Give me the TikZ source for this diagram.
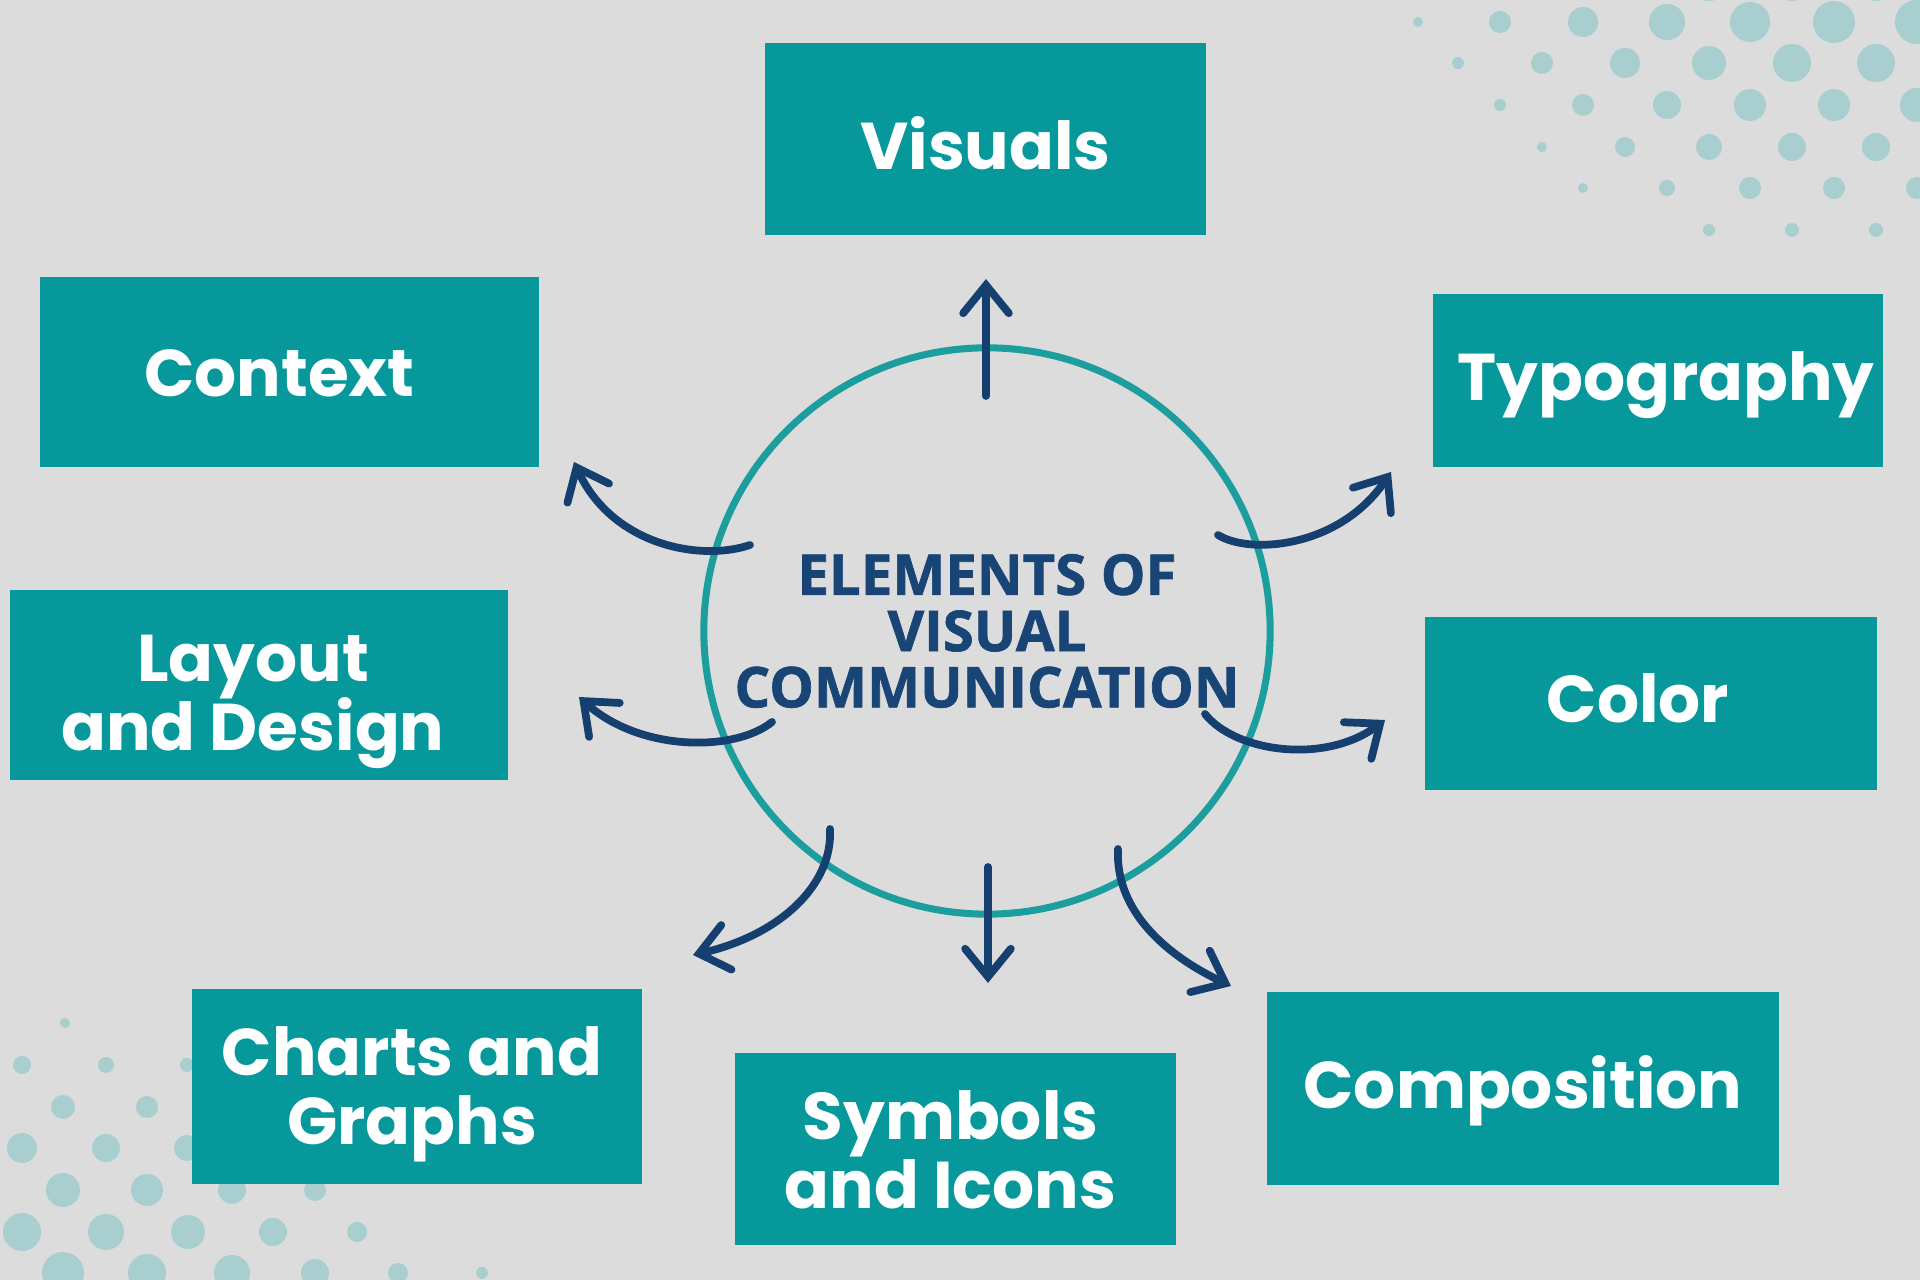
\documentclass[tikz,border=0pt]{standalone}
\usepackage{fontspec}
\usetikzlibrary{arrows.meta}
\newfontfamily\boxfont{Poppins}
\newfontfamily\hubfont{Open Sans}[BoldFeatures={FakeBold=1.2}]
\definecolor{bgc}{RGB}{220,220,220}
\definecolor{boxteal}{RGB}{7,152,155}
\definecolor{ringteal}{RGB}{28,158,158}
\definecolor{navy}{RGB}{24,69,118}
\definecolor{arrnavy}{RGB}{20,63,111}
\definecolor{dotc}{RGB}{168,206,208}
\newcommand{\tightlines}{\lineskiplimit=-50pt\relax}
\tikzset{
  tealbox/.style={rectangle, fill=boxteal, inner sep=0pt},
  boxtext/.style={text=white, inner sep=0pt, align=center,
    font=\boxfont\bfseries\fontsize{18.8pt}{19.5pt}\selectfont\tightlines},
  hubring/.style={circle, draw=ringteal, line width=2pt, inner sep=0pt, align=center,
    text=navy, font=\hubfont\bfseries\fontsize{16pt}{16pt}\selectfont\tightlines},
  arr/.style={draw=arrnavy, line width=2.2pt, line cap=round,
    -{Straight Barb[length=8pt,width=13pt,line cap=round]}},
  dotfill/.style={fill=dotc}
}
\begin{document}
\begin{tikzpicture}[x=0.01cm,y=-0.01cm]
\fill[bgc] (0,0) rectangle (1920,1280);
\useasboundingbox (0,0) rectangle (1920,1280);
% decorative dots, top right
\foreach \x/\y/\r in {1709/-20/21,1792/-20/21,1876/-20/21,
  1418/22/5,1500/22/11,1583/22/15,1667/22/18,1750/22/20,1834/22/21,1917/22/22,
  1458/63/6,1542/63/11,1625/63/15,1709/63/17,1792/63/19,1876/63/19,
  1500/105/6,1583/105/11,1667/105/14,1750/105/16,1834/105/16,1917/105/17,
  1542/147/5,1625/147/10,1709/147/13,1792/147/14,1876/147/14,
  1583/188/5,1667/188/8,1750/188/11,1834/188/11,1917/188/11,
  1709/230/6,1792/230/7,1876/230/7}
  \fill[dotfill] (\x,\y) circle[radius=\r*0.01cm];
% decorative dots, bottom left
\foreach \x/\y/\r in {65/1023/5,
  22/1065/9,106/1065/8,187/1065/7,
  63/1107/12,147/1107/11,231/1107/10,
  22/1148/15,106/1148/14,187/1148/13,
  63/1190/17,147/1190/16,232/1190/14,315/1190/11,
  22/1232/19,106/1232/18,188/1232/17,273/1232/14,357/1232/10,
  63/1273/21,147/1273/19,232/1273/18,315/1273/14,398/1273/10,482/1273/6}
  \fill[dotfill] (\x,\y) circle[radius=\r*0.01cm];
% boxes
\node[tealbox, minimum width=4.41cm, minimum height=1.92cm] (vis) at (985.5,139) {};
\node[tealbox, minimum width=4.99cm, minimum height=1.90cm] (ctx) at (289.5,372) {};
\node[tealbox, minimum width=4.50cm, minimum height=1.73cm] (typ) at (1658,380.5) {};
\node[tealbox, minimum width=4.98cm, minimum height=1.90cm] (lay) at (259,685) {};
\node[tealbox, minimum width=4.52cm, minimum height=1.73cm] (col) at (1651,703.5) {};
\node[tealbox, minimum width=4.50cm, minimum height=1.95cm] (cha) at (417,1086.5) {};
\node[tealbox, minimum width=4.41cm, minimum height=1.92cm] (sym) at (955.5,1149) {};
\node[tealbox, minimum width=5.12cm, minimum height=1.93cm] (com) at (1523,1088.5) {};
% box labels
\node[boxtext] (vist) at ([shift={(0,4)}]vis.center) {Visuals};
\node[boxtext] (ctxt) at ([shift={(-10,1)}]ctx.center) {Context};
\node[boxtext] (typt) at ([shift={(8,5)}]typ.center) {Typography};
\node[boxtext] (layt) at ([shift={(-6,17)}]lay.center) {Layout\\and Design};
\node[boxtext] (colt) at ([shift={(-13,-5)}]col.center) {Color};
\node[boxtext] (chat) at ([shift={(-5,8)}]cha.center) {Charts and\\Graphs};
\node[boxtext] (symt) at ([shift={(-5,1)}]sym.center) {Symbols\\and Icons};
\node[boxtext] (comt) at ([shift={(0,2)}]com.center) {Composition};
% hub
\node[hubring, minimum size=5.66cm] (hub) at (987,631) {ELEMENTS OF\\VISUAL\\COMMUNICATION};
% arrow end points
\coordinate (a1s) at (986,396); \coordinate (a1e) at (986,279);
\coordinate (a2s) at (750,545); \coordinate (a2e) at (574,462);
\coordinate (a3s) at (772,722); \coordinate (a3e) at (579,697);
\coordinate (a4s) at (1218,535); \coordinate (a4e) at (1391,472);
\coordinate (a5s) at (1205,714); \coordinate (a5e) at (1385,720);
\coordinate (a6s) at (830,829); \coordinate (a6e) at (693,955);
\coordinate (a7s) at (988,867); \coordinate (a7e) at (988,983);
\coordinate (a8s) at (1118,849); \coordinate (a8e) at (1231,986);
% arrows
\draw[arr] (a1s) -- (a1e);
\draw[arr] (a2s) .. controls (700,562) and (612,545) .. (a2e);
\draw[arr] (a3s) .. controls (735,752) and (640,752) .. (a3e);
\draw[arr] (a4s) .. controls (1250,555) and (1340,548) .. (a4e);
\draw[arr] (a5s) .. controls (1235,752) and (1325,765) .. (a5e);
\draw[arr] (a6s) .. controls (833,885) and (780,935) .. (a6e);
\draw[arr] (a7s) -- (a7e);
\draw[arr] (a8s) .. controls (1115,910) and (1165,955) .. (a8e);
\end{tikzpicture}
\end{document}
